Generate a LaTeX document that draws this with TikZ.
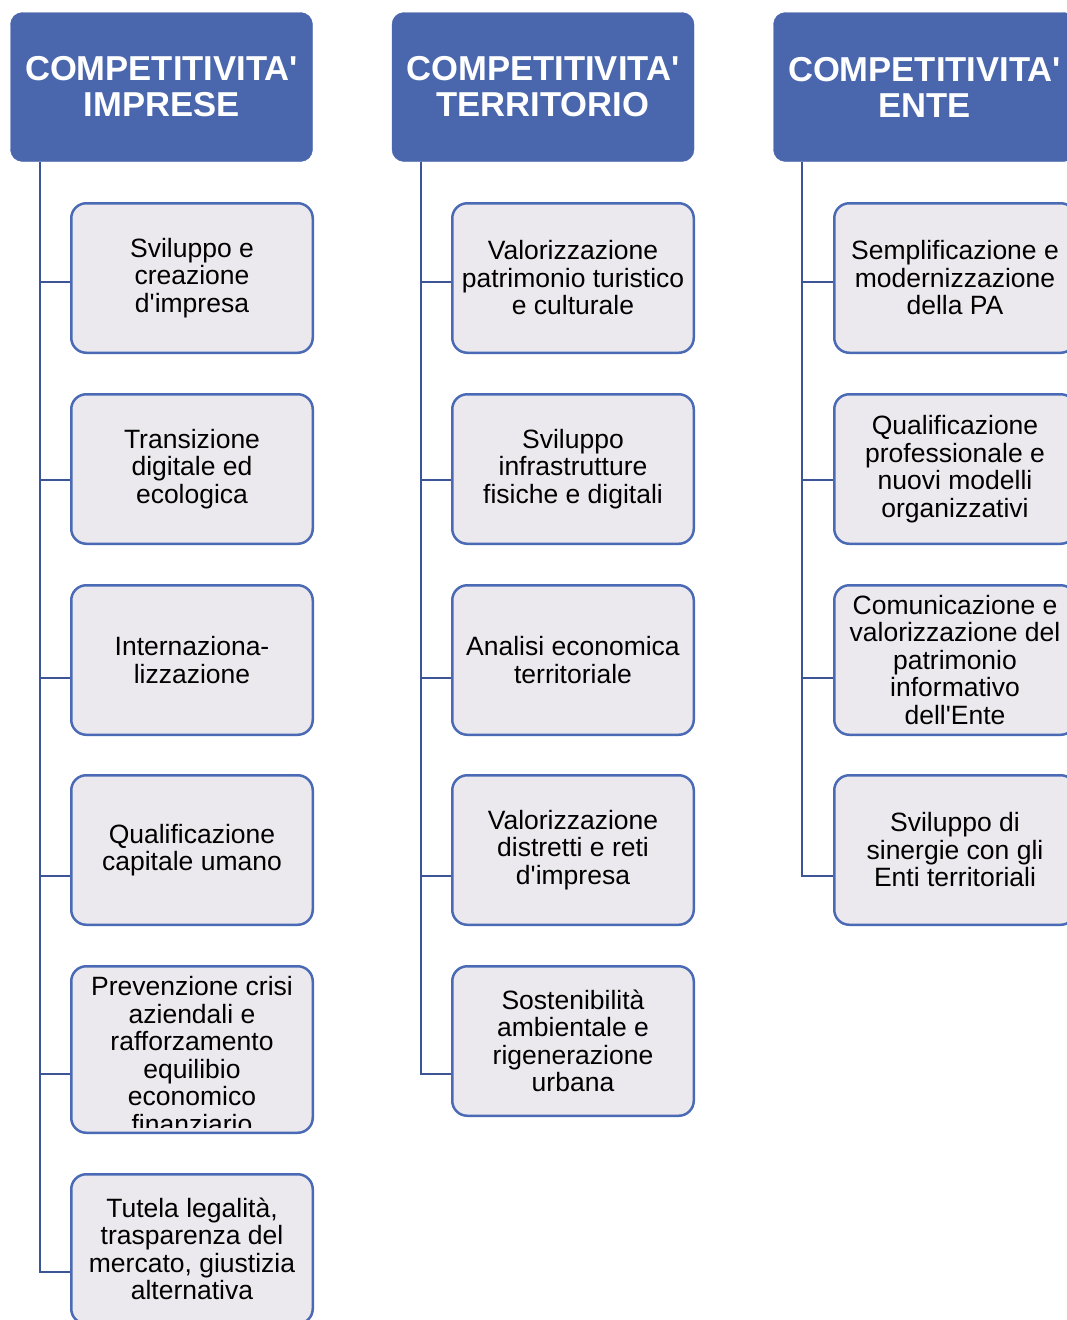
\documentclass[tikz,border=0pt]{standalone}
\usepackage{fontspec}
\setmainfont{Liberation Sans}[Ligatures=TeXOff]
\usetikzlibrary{positioning}
\definecolor{hdrblue}{HTML}{4A67AE}
\definecolor{boxgray}{HTML}{EBE9ED}
\definecolor{boxline}{HTML}{4A6AB5}
\definecolor{trunkblue}{HTML}{3B5597}
\tikzset{head/.style = {draw=hdrblue, fill=hdrblue, rounded corners=12, inner sep=0,
                        minimum width=302, minimum height=149, text=white, align=center,
                        font=\fontsize{34.6}{36}\selectfont\bfseries}}
\tikzset{item/.style = {draw=boxline, fill=boxgray, line width=2.5, rounded corners=15,
                        inner sep=2, minimum width=241.5, minimum height=149.5, align=center,
                        font=\fontsize{26.5}{27.5}\selectfont}}
\tikzset{trunk/.style = {draw=trunkblue, line width=2.6}}

\begin{document}
\begin{tikzpicture}[x=1pt, y=-1pt]
      \clip (0, 0) rectangle (1067, 1320);
      % headers
      \node [head] (h1) at (161.5, 87) {COMPETITIVITA'\\IMPRESE};
      \node [head] (h2) at (543, 87) {COMPETITIVITA'\\TERRITORIO};
      \node [head] (h3) at (924.5, 87) {COMPETITIVITA'\\ENTE};
      % imprese
      \node [item] (i1) at (192, 278) {Sviluppo e\\creazione\\d'impresa};
      \node [item] (i2) at (192, 469) {Transizione\\digitale ed\\ecologica};
      \node [item] (i3) at (192, 660) {Internaziona-\\lizzazione};
      \node [item] (i4) at (192, 850) {Qualificazione\\capitale umano};
      \node [item, minimum height=166.5] (i5) at (192, 1049.5) {};
      \begin{scope}
        \clip (72, 967) rectangle (312, 1127);
        \node [align=center, inner sep=0, font=\fontsize{26.5}{27.5}\selectfont] (i5t) at (192, 1055)
          {Prevenzione crisi\\aziendali e\\rafforzamento\\equilibio\\economico\\finanziario};
      \end{scope}
      \node [item] (i6) at (192, 1249) {Tutela legalità,\\trasparenza del\\mercato, giustizia\\alternativa};
      % territorio
      \node [item] (t1) at (573, 278) {Valorizzazione\\patrimonio turistico\\e culturale};
      \node [item] (t2) at (573, 469) {Sviluppo\\infrastrutture\\fisiche e digitali};
      \node [item] (t3) at (573, 660) {Analisi economica\\territoriale};
      \node [item] (t4) at (573, 850) {Valorizzazione\\distretti e reti\\d'impresa};
      \node [item] (t5) at (573, 1041) {Sostenibilità\\ambientale e\\rigenerazione\\urbana};
      % ente
      \node [item] (e1) at (955, 278) {Semplificazione e\\modernizzazione\\della PA};
      \node [item] (e2) at (955, 469) {Qualificazione\\professionale e\\nuovi modelli\\organizzativi};
      \node [item] (e3) at (955, 660) {Comunicazione e\\valorizzazione del\\patrimonio\\informativo\\dell'Ente};
      \node [item] (e4) at (955, 850) {Sviluppo di\\sinergie con gli\\Enti territoriali};
      % connectors
      \draw [trunk] (h1.south -| 40, 0) |- (i6.west |- 0, 1272);
      \foreach \n/\y in {1/282, 2/480, 3/678, 4/876, 5/1074}
        \draw [trunk] (40, \y) -- (i\n.west |- 0, \y);
      \draw [trunk] (h2.south -| 421, 0) |- (t5.west |- 0, 1074);
      \foreach \n/\y in {1/282, 2/480, 3/678, 4/876}
        \draw [trunk] (421, \y) -- (t\n.west |- 0, \y);
      \draw [trunk] (h3.south -| 802, 0) |- (e4.west |- 0, 876);
      \foreach \n/\y in {1/282, 2/480, 3/678}
        \draw [trunk] (802, \y) -- (e\n.west |- 0, \y);
    \end{tikzpicture}
\end{document}
